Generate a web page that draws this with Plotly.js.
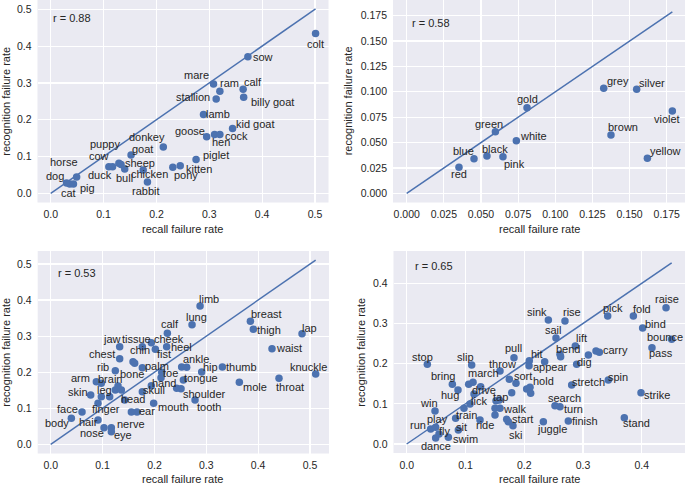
<!DOCTYPE html>
<html><head><meta charset="utf-8">
<script src="https://cdn.plot.ly/plotly-3.0.1.min.js"></script>
<style>html,body{margin:0;padding:0;background:#fff}#chart{width:685px;height:484px}</style>
</head><body><div id="chart"></div>
<script>
// ---------- Panel 1 : animals ----------
const names1 = ['colt','sow','mare','ram','calf','stallion','billy goat','lamb','kid goat','goose','hen','cock','donkey','goat','piglet','kitten','pony','chicken','rabbit','duck','puppy','cow','sheep','bull','horse','dog','cat','pig'];
const recall1 = [0.501,0.373,0.308,0.320,0.364,0.313,0.365,0.289,0.344,0.295,0.310,0.320,0.213,0.152,0.275,0.245,0.231,0.175,0.183,0.110,0.117,0.129,0.133,0.140,0.049,0.030,0.036,0.043];
const recog1 = [0.434,0.371,0.297,0.277,0.283,0.256,0.261,0.214,0.176,0.154,0.160,0.160,0.126,0.104,0.092,0.075,0.071,0.063,0.031,0.072,0.072,0.082,0.078,0.066,0.044,0.028,0.025,0.025];
const r1 = 'r = 0.88';
// ---------- Panel 2 : colours ----------
const names2 = ['grey','silver','violet','brown','yellow','gold','green','white','blue','black','pink','red'];
const recall2 = [0.1326,0.1548,0.1788,0.1375,0.162,0.081,0.0597,0.0738,0.0453,0.054,0.0648,0.0352];
const recog2 = [0.1035,0.1025,0.0811,0.0574,0.0345,0.0844,0.0607,0.0518,0.0341,0.0368,0.0361,0.0256];
const r2 = 'r = 0.58';
// ---------- Panel 3 : body parts ----------
const names3 = ['limb','lung','calf','breast','thigh','lap','waist','knuckle','throat','mole','thumb','hip','ankle','','tongue','shoulder','','tooth','mouth','ear','','skull','','hand','toe','palm','heel','fist','cheek','tissue','jaw','chin','','chest','rib','bone','','','brain','arm','skin','leg','','head','finger','face','body','hair','nose','nerve','eye'];
const recall3 = [0.288,0.2725,0.2249,0.385,0.3907,0.4846,0.4267,0.5109,0.4402,0.3637,0.331,0.2911,0.2622,0.2525,0.2558,0.2513,0.2429,0.2783,0.1985,0.1664,0.1555,0.1767,0.194,0.2127,0.214,0.1767,0.2236,0.2018,0.194,0.1767,0.133,0.1587,0.1619,0.133,0.1246,0.1298,0.1246,0.1362,0.0976,0.088,0.0771,0.0976,0.1137,0.1426,0.0912,0.0604,0.0398,0.0912,0.1028,0.1169,0.1169];
const recog3 = [0.3835,0.3318,0.3077,0.341,0.3188,0.3068,0.2652,0.195,0.1829,0.1718,0.2144,0.2005,0.2134,0.2144,0.1783,0.1543,0.1552,0.1229,0.1136,0.0896,0.0896,0.146,0.1626,0.1848,0.1996,0.2125,0.2708,0.2634,0.2818,0.2708,0.2708,0.2292,0.2245,0.2375,0.2042,0.1617,0.1506,0.1506,0.1691,0.1737,0.1367,0.1321,0.1321,0.1229,0.1136,0.0896,0.072,0.0674,0.0461,0.0461,0.035];
const r3 = 'r = 0.53';
// ---------- Panel 4 : verbs ----------
const names4 = ['stop','slip','bring','hug','win','run','play','fly','dance','sit','swim','train','lick','ride','drive','march','throw','pull','hit','appear','sort','hold','tap','walk','start','ski','juggle','finish','turn','search','stretch','spin','strike','stand','dig','carry','bend','lift','sail','sink','rise','pick','fold','raise','bind','bounce','pass','','','','','','','','','','','','','','',''];
const recall4 = [0.0351,0.1106,0.0777,0.0873,0.0482,0.0408,0.0493,0.055,0.0493,0.0879,0.0709,0.0833,0.1077,0.1248,0.1146,0.1055,0.1588,0.1826,0.2087,0.2348,0.186,0.2042,0.152,0.1503,0.1702,0.1809,0.2326,0.2751,0.2609,0.2524,0.2808,0.3432,0.3988,0.3704,0.2893,0.3279,0.2609,0.287,0.2541,0.2411,0.2694,0.3421,0.3858,0.4414,0.4016,0.451,0.4175,0.3092,0.3222,0.262,0.2082,0.1747,0.2099,0.211,0.1787,0.1577,0.1588,0.1503,0.1129,0.1259,0.0975,0.173];
const recog4 = [0.1983,0.1966,0.1485,0.1344,0.0821,0.0373,0.0415,0.0249,0.0149,0.0348,0.0166,0.0639,0.0996,0.0597,0.1245,0.1485,0.1817,0.2149,0.2074,0.2049,0.151,0.1369,0.1079,0.0888,0.0614,0.0456,0.0556,0.0573,0.0929,0.0954,0.1469,0.1593,0.1278,0.0655,0.1983,0.2282,0.2232,0.2439,0.2638,0.3087,0.3062,0.3186,0.3186,0.3394,0.2887,0.2605,0.2398,0.2215,0.2315,0.2174,0.195,0.161,0.1411,0.1261,0.1278,0.1095,0.0888,0.0722,0.1535,0.1427,0.0888,0.0556];
const r4 = 'r = 0.65';
// tick labels
const ticks1 = [0.0,0.1,0.2,0.3,0.4,0.5];
const ticks2 = [0.000,0.025,0.050,0.075,0.100,0.125,0.150,0.175];
const ticks3 = [0.0,0.1,0.2,0.3,0.4,0.5];
const ticks4 = [0.0,0.1,0.2,0.3,0.4];
const xTitle = 'recall failure rate', yTitle = 'recognition failure rate';

// ---------- label placement (pixel offsets of label centre from point; dy down) ----------
const off1 = [[0,10],[15,0],[-17,-9],[10,-8],[10,-7],[-23,-2],[29,5],[15,-1],[23,-5],[-17,-6],[6,8],[17,2],[-16,-10],[11,-6],[20,-4],[19,3],[13,8],[6,4],[-1,9],[-9,8],[-8,-23],[-20,-7],[19,-2],[0,9],[-13,-15],[-12,-7],[-1,9],[14,4]];
const off2 = [[14,-7],[15,-6],[-5,8],[12,-8],[18,-7],[0,-9],[-6,-8],[17,-5],[-11,-8],[8,-7],[12,7],[0,7]];
const off3 = [[8.7,-7.3],[4,-8],[2.7,-9],[16.3,-7.7],[16,0.7],[7.7,-5.3],[17.3,-0.7],[-7.3,-7],[11,8.3],[16,4.3],[19.3,0],[9,-5],[9.3,-8.3],[0,0],[18,-2.5],[23,5],[0,0],[14.3,6.7],[19.7,4],[9.7,-1],[0,0],[11.7,-1.7],[0,0],[3,5.5],[8.8,1],[15,-1.7],[14.5,0],[8.7,4.6],[18,-3.7],[-5.7,-7.7],[-8,-7.7],[7,-11.7],[0,0],[-18,-4.3],[-12,-4],[13.7,-11.7],[0,0],[0,0],[8.7,-4.3],[-16.3,-4],[-12.3,-2.7],[2.7,-6.3],[0,0],[8.7,-0.7],[8,6],[-14.7,-2.7],[-14,4.7],[-9.7,2],[-12.3,5.7],[19.7,-3.3],[11.3,3.3]];
const off4 = [[-5,-7.7],[-5.7,-8.3],[-9,-8.3],[-8,5],[-5.7,-7.7],[-13,-4],[1.7,-8],[6,-3.3],[0,7.7],[2.7,-2.7],[17.3,1.7],[11,-3.7],[9,-3.3],[5,5],[10,-4],[14.7,-11],[2.7,-6.7],[-0.7,-9.3],[7.3,-6.7],[6,5],[7.3,-7.3],[16.7,-8],[5,-4],[20,0.3],[16,-0.3],[3,9.3],[9,7.3],[16.7,0],[13.3,2.7],[10,-8],[16.7,-3.3],[10,-3.3],[16.3,2.3],[12.3,5],[7.7,-2.7],[15.7,-2.3],[7.7,-5],[6,-8.3],[-2.7,-8],[-11,-8.3],[7.3,-9.3],[5.7,-8.3],[9,-6.7],[1.3,-8.3],[13.3,-4],[-6.7,-2],[9,5.7]];

const W = 685, H = 484;
const BLUE = '#4C72B0', TXT = '#262626', FONT = '"Liberation Sans", Arial, Helvetica, sans-serif';
const panels = [
  {names:names1,x:recall1,y:recog1,r:r1,off:off1,ticks:ticks1,fmt:'.1f',xd:[37.5,328.5],yd:[0,202.5],xr:[-0.025,0.5255],yr:[-0.025,0.5253],rpos:[50.7,17.7],xt:[182.7,229.3],yt:[5.7,101]},
  {names:names2,x:recall2,y:recog2,r:r2,off:off2,ticks:ticks2,fmt:'.3f',xd:[393,685],yd:[0,202.5],xr:[-0.00922,0.18732],yr:[-0.00906,0.19046],rpos:[410,22.7],xt:[539.3,229.3],yt:[348.3,101]},
  {names:names3,x:recall3,y:recog3,r:r3,off:off3,ticks:ticks3,fmt:'.1f',xd:[37.7,329],yd:[251,453.5],xr:[-0.02507,0.5366],yr:[-0.0255,0.536],rpos:[56,272.7],xt:[182.7,479.3],yt:[5.7,352]},
  {names:names4,x:recall4,y:recog4,r:r4,off:off4,ticks:ticks4,fmt:'.1f',xd:[393.5,685],yd:[251,453],xr:[-0.02247,0.4737],yr:[-0.0224,0.4804],rpos:[412.7,266],xt:[539.3,478.7],yt:[360.7,352]}
];

const traces = [], annotations = [], layout = {
  width: W, height: H, margin:{l:0,r:0,t:0,b:0}, showlegend:false,
  paper_bgcolor:'#ffffff', plot_bgcolor:'#EAEAF2', font:{family:FONT, color:TXT, size:11}
};

panels.forEach((p, i) => {
  const k = i === 0 ? '' : String(i+1);
  const xa = 'x'+k, ya = 'y'+k;
  const mx = Math.max(...p.x);
  traces.push({x:[0,mx], y:[0,mx], mode:'lines', line:{color:BLUE,width:1.5}, xaxis:xa, yaxis:ya, hoverinfo:'skip'});
  traces.push({x:p.x, y:p.y, mode:'markers', marker:{color:BLUE,size:7.5,line:{width:0}}, xaxis:xa, yaxis:ya, text:p.names});
  const common = {showgrid:true, gridcolor:'#ffffff', gridwidth:1.2, zeroline:false, showline:false,
    ticks:'', tickfont:{size:10.5,color:TXT,family:FONT}, tickvals:p.ticks, tickformat:p.fmt, automargin:false, fixedrange:true};
  layout['xaxis'+k] = Object.assign({}, common, {domain:[p.xd[0]/W, p.xd[1]/W], range:p.xr, anchor:ya, ticklabelstandoff:4});
  layout['yaxis'+k] = Object.assign({}, common, {domain:[1-p.yd[1]/H, 1-p.yd[0]/H], range:p.yr, anchor:xa, ticklabelstandoff:5});
  p.names.forEach((n, j) => {
    if (!n) return;
    annotations.push({x:p.x[j], y:p.y[j], xref:xa, yref:ya, text:n, showarrow:false,
      xshift:p.off[j][0], yshift:-p.off[j][1], xanchor:'center', yanchor:'middle',
      font:{size:11,color:TXT,family:FONT}});
  });
  annotations.push({x:p.rpos[0]/W, y:1-p.rpos[1]/H, xref:'paper', yref:'paper', text:p.r, showarrow:false,
    xanchor:'left', yanchor:'middle', font:{size:11,color:TXT,family:FONT}});
  annotations.push({x:p.xt[0]/W, y:1-p.xt[1]/H, xref:'paper', yref:'paper', text:xTitle, showarrow:false,
    xanchor:'center', yanchor:'middle', font:{size:11,color:TXT,family:FONT}});
  annotations.push({x:p.yt[0]/W, y:1-p.yt[1]/H, xref:'paper', yref:'paper', text:yTitle, showarrow:false, textangle:-90,
    xanchor:'center', yanchor:'middle', font:{size:11,color:TXT,family:FONT}});
});
layout.annotations = annotations;
Plotly.newPlot('chart', traces, layout, {displayModeBar:false, staticPlot:true});
</script></body></html>
